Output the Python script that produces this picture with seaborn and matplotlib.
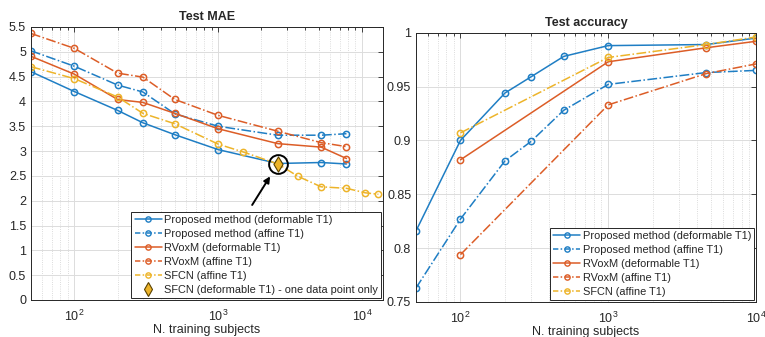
import numpy as np
import pandas as pd
import matplotlib
matplotlib.use("Agg")
import matplotlib.pyplot as plt
import seaborn as sns
from matplotlib.ticker import FuncFormatter, LogLocator, NullFormatter, MultipleLocator
from matplotlib.lines import Line2D

sns.set_theme(style="white")
plt.rcParams['font.family'] = ['Liberation Sans', 'DejaVu Sans']
plt.rcParams['mathtext.fontset'] = 'custom'
plt.rcParams['mathtext.rm'] = 'Liberation Sans'
plt.rcParams['mathtext.it'] = 'Liberation Sans:italic'

# ---------------- data ----------------
n_left = [50, 100, 200, 300, 500, 1000, 2600, 5200, 7800]
mae_prop_def = [4.60, 4.20, 3.82, 3.57, 3.33, 3.03, 2.75, 2.77, 2.74]
mae_prop_aff = [5.02, 4.71, 4.33, 4.19, 3.75, 3.50, 3.32, 3.32, 3.35]
mae_rvox_def = [4.91, 4.55, 4.04, 3.98, 3.76, 3.45, 3.15, 3.08, 2.85]
mae_rvox_aff = [5.37, 5.07, 4.57, 4.49, 4.04, 3.72, 3.40, 3.17, 3.09]
n_sfcn = [50, 100, 200, 300, 500, 1000, 1500, 2600, 3600, 5200, 7800, 10500, 13000]
mae_sfcn_aff = [4.70, 4.46, 4.09, 3.76, 3.55, 3.14, 2.98, 2.74, 2.49, 2.28, 2.25, 2.16, 2.13]
n_sfcn_def = [2600]
mae_sfcn_def = [2.74]

n_right = [50, 100, 200, 300, 500, 1000, 4600, 10000]
acc_prop_def = [0.816, 0.900, 0.944, 0.959, 0.978, 0.988, 0.989, 0.995]
acc_prop_aff = [0.763, 0.827, 0.881, 0.899, 0.928, 0.952, 0.963, 0.965]
n_right_short = [100, 1000, 4600, 10000]
acc_rvox_def = [0.882, 0.973, 0.986, 0.992]
acc_rvox_aff = [0.794, 0.933, 0.962, 0.971]
acc_sfcn_aff = [0.907, 0.977, 0.989, 0.996]

labels = ["Proposed method (deformable T1)", "Proposed method (affine T1)",
          "RVoxM (deformable T1)", "RVoxM (affine T1)", "SFCN (affine T1)"]
label_diamond = "SFCN (deformable T1) - one data point only"

BLUE = "#1f7ec4"
ORANGE = "#dc5d27"
YELLOW = "#EDB42A"
DARK = "#262626"

fig = plt.figure(figsize=(7.65, 3.37), dpi=100)
axL = fig.add_axes([0.0405, 0.1098, 0.4602, 0.8101])
axR = fig.add_axes([0.5438, 0.1039, 0.4444, 0.7991])

def series(ax, x, y, color, ls, label):
    df = pd.DataFrame({"x": x, "y": y})
    sns.lineplot(data=df, x="x", y="y", ax=ax, color=color, linestyle=ls, lw=1.1,
                 marker="o", markersize=4.5, markerfacecolor="none",
                 markeredgecolor=color, markeredgewidth=1.1, label=label, legend=False)

# left
series(axL, n_left, mae_prop_def, BLUE, "-", labels[0])
series(axL, n_left, mae_prop_aff, BLUE, "-.", labels[1])
series(axL, n_left, mae_rvox_def, ORANGE, "-", labels[2])
series(axL, n_left, mae_rvox_aff, ORANGE, "-.", labels[3])
series(axL, n_sfcn, mae_sfcn_aff, YELLOW, "-.", labels[4])
dfd = pd.DataFrame({"x": n_sfcn_def, "y": mae_sfcn_def})
sns.scatterplot(data=dfd, x="x", y="y", ax=axL, marker="d", s=60, color=YELLOW,
                edgecolor="#5a4200", linewidth=0.8, zorder=5, legend=False)
axL.plot(n_sfcn_def, mae_sfcn_def, marker="o", ms=13.5, mfc="none", mec="black",
         mew=1.4, ls="none", zorder=6)
axL.annotate("", xy=(n_sfcn_def[0], mae_sfcn_def[0]), xytext=(-18.5, -29.5),
             textcoords="offset points",
             arrowprops=dict(arrowstyle="-|>", color="black", lw=1.4, shrinkA=0,
                             shrinkB=10.5, mutation_scale=9))

# right
series(axR, n_right, acc_prop_def, BLUE, "-", labels[0])
series(axR, n_right, acc_prop_aff, BLUE, "-.", labels[1])
series(axR, n_right_short, acc_rvox_def, ORANGE, "-", labels[2])
series(axR, n_right_short, acc_rvox_aff, ORANGE, "-.", labels[3])
series(axR, n_right_short, acc_sfcn_aff, YELLOW, "-.", labels[4])

fmt = FuncFormatter(lambda v, p: "%g" % v)
for ax in (axL, axR):
    ax.set_xscale("log")
    ax.xaxis.set_major_locator(LogLocator(base=10, numticks=10))
    ax.xaxis.set_minor_locator(LogLocator(base=10, subs=np.arange(2, 10), numticks=20))
    ax.xaxis.set_minor_formatter(NullFormatter())
    ax.yaxis.set_major_formatter(fmt)
    ax.grid(True, which="major", axis="both", color="#dcdcdc", lw=0.7, ls="-")
    ax.grid(True, which="minor", axis="x", color="#d0d0d0", lw=0.6, ls=":")
    ax.set_axisbelow(True)
    ax.tick_params(which="both", direction="in", top=True, right=True, colors=DARK,
                   labelsize=9, width=0.6)
    ax.tick_params(which="major", length=3.5)
    ax.tick_params(which="minor", length=2)
    ax.tick_params(axis="x", pad=6.5)
    for s in ax.spines.values():
        s.set_color(DARK)
        s.set_linewidth(0.7)
        s.set_visible(True)
    ax.set_xlabel("N. training subjects", fontsize=9, color=DARK, labelpad=0)
    ax.set_ylabel("")

axL.set_xlim(50, 14000)
axL.set_ylim(0, 5.5)
axL.yaxis.set_major_locator(MultipleLocator(0.5))
axL.set_title("Test MAE", fontsize=9, fontweight="bold", pad=5)

axR.set_xlim(50, 10000)
axR.set_ylim(0.75, 1.0)
axR.yaxis.set_major_locator(MultipleLocator(0.05))
axR.set_title("Test accuracy", fontsize=9, fontweight="bold", pad=5)

def handles(with_diamond):
    hs = []
    dashdot = (0, (3.5, 1.5, 1, 1.5))
    specs = [(BLUE, "-"), (BLUE, dashdot), (ORANGE, "-"), (ORANGE, dashdot), (YELLOW, dashdot)]
    for (c, ls), lab in zip(specs, labels):
        hs.append(Line2D([], [], color=c, ls=ls, lw=1.1, marker="o", ms=3.8,
                         mfc="none", mec=c, mew=1.0, label=lab))
    if with_diamond:
        hs.append(Line2D([], [], color=YELLOW, ls="none", marker="d", ms=7.5,
                         mec="#5a4200", mew=0.8, label=label_diamond))
    return hs

for ax, wd in ((axL, True), (axR, False)):
    leg = ax.legend(handles=handles(wd), loc="lower right", fontsize=7.9,
                    frameon=True, fancybox=False, borderaxespad=0.15,
                    handlelength=2.5, handletextpad=0.2, labelspacing=0.36,
                    borderpad=0.3, framealpha=1)
    leg.get_frame().set_edgecolor(DARK)
    leg.get_frame().set_linewidth(0.7)
    for t in leg.get_texts():
        t.set_color(DARK)

fig.savefig("out.png", dpi=100)
